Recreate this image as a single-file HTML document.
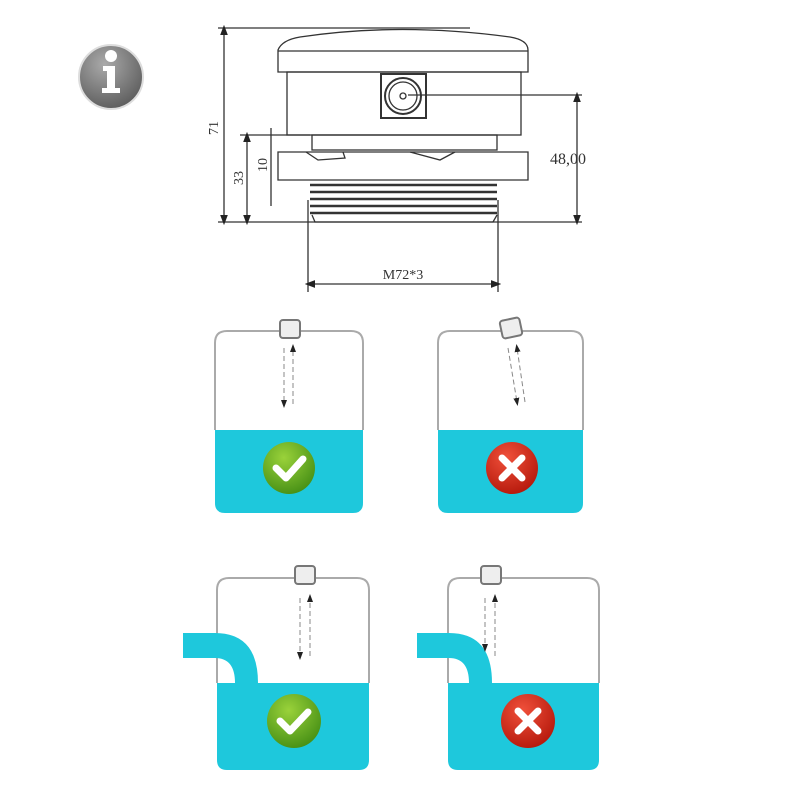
<!DOCTYPE html>
<html><head><meta charset="utf-8"><style>html,body{margin:0;padding:0;background:#fff}svg{display:block}</style></head>
<body>
<svg width="800" height="800" viewBox="0 0 800 800" xmlns="http://www.w3.org/2000/svg" font-family="Liberation Serif, serif">
<defs>
<radialGradient id="gi" cx="0.4" cy="0.3" r="0.8"><stop offset="0" stop-color="#aaa"/><stop offset="1" stop-color="#555"/></radialGradient>
<radialGradient id="gg" cx="0.4" cy="0.3" r="0.8"><stop offset="0" stop-color="#9ad23a"/><stop offset="1" stop-color="#3f8a12"/></radialGradient>
<radialGradient id="gr" cx="0.4" cy="0.3" r="0.8"><stop offset="0" stop-color="#f0503a"/><stop offset="1" stop-color="#b01408"/></radialGradient>
<marker id="ar" markerWidth="8" markerHeight="8" refX="4" refY="4" orient="auto-start-reverse"><path d="M0,1 L8,4 L0,7 z" fill="#222"/></marker>
</defs>
<circle cx="111" cy="77" r="32" fill="url(#gi)" stroke="#ddd" stroke-width="2"/>
<circle cx="111" cy="56" r="6" fill="#fff"/>
<path d="M103 66 h12 v22 h5 v5 h-18 v-5 h5 v-17 h-4z" fill="#fff"/>
<g fill="none" stroke="#333" stroke-width="1.3">
<line x1="218" y1="28" x2="470" y2="28"/>
<path d="M278 50 Q282 40 300 37 Q400 22 510 37 Q528 40 528 50 L528 72 L278 72 Z"/>
<line x1="278" y1="51" x2="528" y2="51"/>
<rect x="287" y="72" width="234" height="63"/>
<rect x="381" y="74" width="45" height="44" stroke-width="2"/>
<circle cx="403" cy="96" r="18" stroke-width="2"/>
<circle cx="403" cy="96" r="14"/>
<circle cx="403" cy="96" r="3"/>
<line x1="408" y1="95" x2="582" y2="95"/>
<rect x="312" y="135" width="185" height="15"/>
<path d="M278 152 H528 V180 H278 Z"/>
<path d="M306 152 L318 160 L345 158 L343 152 M410 152 L440 160 L455 152"/>
<g stroke-width="2.5"><line x1="310" y1="185" x2="497" y2="185"/><line x1="310" y1="192" x2="497" y2="192"/><line x1="310" y1="199" x2="497" y2="199"/><line x1="310" y1="206" x2="497" y2="206"/><line x1="310" y1="213" x2="497" y2="213"/></g>
<path d="M312 215 L315 222 H493 L497 215"/>
<line x1="218" y1="222" x2="582" y2="222"/>
<line x1="240" y1="135" x2="310" y2="135"/>
<line x1="224" y1="30" x2="224" y2="220" marker-start="url(#ar)" marker-end="url(#ar)"/>
<line x1="247" y1="137" x2="247" y2="220" marker-start="url(#ar)" marker-end="url(#ar)"/>
<line x1="271" y1="128" x2="271" y2="206"/>
<line x1="577" y1="97" x2="577" y2="220" marker-start="url(#ar)" marker-end="url(#ar)"/>
<line x1="308" y1="200" x2="308" y2="292"/>
<line x1="498" y1="200" x2="498" y2="292"/>
<line x1="310" y1="284" x2="496" y2="284" marker-start="url(#ar)" marker-end="url(#ar)"/>
</g>
<g fill="#333" font-size="14">
<text x="218" y="128" transform="rotate(-90 218 128)" text-anchor="middle">71</text>
<text x="243" y="178" transform="rotate(-90 243 178)" text-anchor="middle">33</text>
<text x="267" y="165" transform="rotate(-90 267 165)" text-anchor="middle">10</text>
<text x="550" y="164" font-size="16">48,00</text>
<text x="403" y="279" text-anchor="middle">M72*3</text>
</g>
<g>
<path d="M215 430 H363 V503 Q363 513 353 513 H225 Q215 513 215 503 Z" fill="#1ec8dc"/>
<path d="M215 430 V343 Q215 331 227 331 H351 Q363 331 363 343 V430" fill="none" stroke="#aaa" stroke-width="2"/>
<rect x="280" y="320" width="20" height="18" rx="3" fill="#eee" stroke="#777" stroke-width="2"/>
<line x1="284" y1="348" x2="284" y2="404" stroke="#888" stroke-dasharray="5,3" marker-end="url(#ar)"/>
<line x1="293" y1="404" x2="293" y2="348" stroke="#888" stroke-dasharray="5,3" marker-end="url(#ar)"/>
<circle cx="289" cy="468" r="26" fill="url(#gg)"/>
<path d="M276 468 L286 478 L303 459" stroke="#fff" stroke-width="7" fill="none" stroke-linecap="round" stroke-linejoin="round"/>
</g>
<g>
<path d="M438 430 H583 V503 Q583 513 573 513 H448 Q438 513 438 503 Z" fill="#1ec8dc"/>
<path d="M438 430 V343 Q438 331 450 331 H571 Q583 331 583 343 V430" fill="none" stroke="#aaa" stroke-width="2"/>
<rect x="501" y="319" width="20" height="18" rx="3" fill="#eee" stroke="#777" stroke-width="2" transform="rotate(-12 511 328)"/>
<line x1="508" y1="348" x2="517" y2="402" stroke="#888" stroke-dasharray="5,3" marker-end="url(#ar)"/>
<line x1="525" y1="402" x2="517" y2="348" stroke="#888" stroke-dasharray="5,3" marker-end="url(#ar)"/>
<circle cx="512" cy="468" r="26" fill="url(#gr)"/>
<path d="M502 458 L522 478 M522 458 L502 478" stroke="#fff" stroke-width="7" stroke-linecap="round"/>
</g>
<g>
<path d="M217 683 H369 V760 Q369 770 359 770 H227 Q217 770 217 760 Z" fill="#1ec8dc"/>
<path d="M217 683 V590 Q217 578 229 578 H357 Q369 578 369 590 V683" fill="none" stroke="#aaa" stroke-width="2"/>
<path d="M183 633 H215 Q258 633 258 683 H235 Q235 658 215 658 H183 Z" fill="#1ec8dc"/>
<rect x="295" y="566" width="20" height="18" rx="3" fill="#eee" stroke="#777" stroke-width="2"/>
<line x1="300" y1="598" x2="300" y2="656" stroke="#888" stroke-dasharray="5,3" marker-end="url(#ar)"/>
<line x1="310" y1="656" x2="310" y2="598" stroke="#888" stroke-dasharray="5,3" marker-end="url(#ar)"/>
<circle cx="294" cy="721" r="27" fill="url(#gg)"/>
<path d="M280 721 L290 731 L308 712" stroke="#fff" stroke-width="7" fill="none" stroke-linecap="round" stroke-linejoin="round"/>
</g>
<g>
<path d="M448 683 H599 V760 Q599 770 589 770 H458 Q448 770 448 760 Z" fill="#1ec8dc"/>
<path d="M448 683 V590 Q448 578 460 578 H587 Q599 578 599 590 V683" fill="none" stroke="#aaa" stroke-width="2"/>
<path d="M417 633 H449 Q492 633 492 683 H469 Q469 658 449 658 H417 Z" fill="#1ec8dc"/>
<rect x="481" y="566" width="20" height="18" rx="3" fill="#eee" stroke="#777" stroke-width="2"/>
<line x1="485" y1="598" x2="485" y2="648" stroke="#888" stroke-dasharray="5,3" marker-end="url(#ar)"/>
<line x1="495" y1="656" x2="495" y2="598" stroke="#888" stroke-dasharray="5,3" marker-end="url(#ar)"/>
<circle cx="528" cy="721" r="27" fill="url(#gr)"/>
<path d="M518 711 L538 731 M538 711 L518 731" stroke="#fff" stroke-width="7" stroke-linecap="round"/>
</g>
</svg>
</body></html>
